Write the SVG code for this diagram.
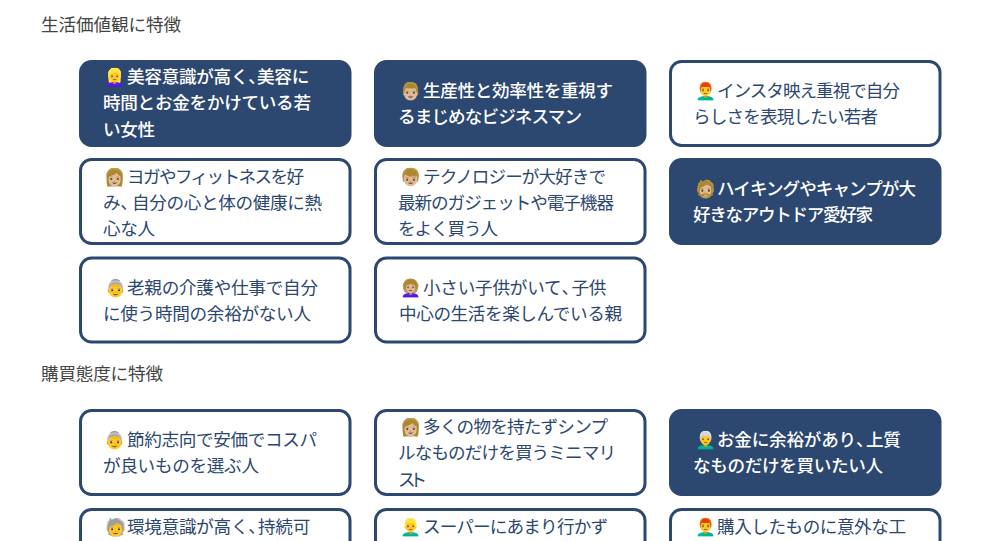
<svg xmlns="http://www.w3.org/2000/svg" width="1000" height="541" viewBox="0 0 1000 541">
<style>
text{font-family:"Noto Sans CJK JP","Noto Sans",sans-serif;font-size:17.6px}
.h{fill:#444}
.card{stroke:#2c4770;stroke-width:3;fill:#fff}
.on .card{fill:#2c4770}
.t{fill:#2c4770}
.on .t{fill:#fff;font-weight:500}
.e{font-size:17px;font-family:"Noto Color Emoji",sans-serif}
</style>
<rect width="1000" height="541" fill="#fff"/>
<text class="h" x="41" y="31" textLength="140">生活価値観に特徴</text>
<text class="h" x="41" y="380" textLength="122">購買態度に特徴</text>
<g id="n1" class="on"><rect class="card" x="80.500" y="61.500" width="269.500" height="84" rx="11"/><text class="t"><tspan class="e" x="104" y="83">👱‍♀️</tspan><tspan x="127" y="83" letter-spacing="-0.27">美容意識が高く<tspan letter-spacing="-8.9">、</tspan>美容に</tspan><tspan x="103" y="109.400" textLength="208">時間とお金をかけている若</tspan><tspan x="103" y="135.800" textLength="52">い女性</tspan></text></g>
<g id="n2" class="on"><rect class="card" x="375.500" y="61.500" width="269.500" height="84" rx="11"/><text class="t"><tspan class="e" x="400" y="97">👨🏼</tspan><tspan x="423" y="97" textLength="190">生産性と効率性を重視す</tspan><tspan x="398" y="123.400" textLength="184">るまじめなビジネスマン</tspan></text></g>
<g id="n3"><rect class="card" x="670.500" y="61.500" width="269.500" height="84" rx="11"/><text class="t"><tspan class="e" x="695" y="97">👨‍🦰</tspan><tspan x="717" y="97" textLength="183">インスタ映え重視で自分</tspan><tspan x="693" y="123.400" textLength="185">らしさを表現したい若者</tspan></text></g>
<g id="n4"><rect class="card" x="80.500" y="159.500" width="269.500" height="84" rx="11"/><text class="t"><tspan class="e" x="104" y="182.500">👩🏼</tspan><tspan x="127" y="182.500" textLength="177">ヨガやフィットネスを好</tspan><tspan x="103" y="208.900" letter-spacing="-0.33">み<tspan letter-spacing="-5.9">、</tspan>自分の心と体の健康に熱</tspan><tspan x="103" y="235.300" textLength="52">心な人</tspan></text></g>
<g id="n5"><rect class="card" x="375.500" y="159.500" width="269.500" height="84" rx="11"/><text class="t"><tspan class="e" x="400" y="182.500">👦🏼</tspan><tspan x="423" y="182.500" textLength="183">テクノロジーが大好きで</tspan><tspan x="398" y="208.900" textLength="216">最新のガジェットや電子機器</tspan><tspan x="398" y="235.300" textLength="100">をよく買う人</tspan></text></g>
<g id="n6" class="on"><rect class="card" x="670.500" y="159.500" width="269.500" height="84" rx="11"/><text class="t"><tspan class="e" x="695" y="195">🧔🏼</tspan><tspan x="717" y="195" textLength="199">ハイキングやキャンプが大</tspan><tspan x="693" y="221.400" textLength="180">好きなアウトドア愛好家</tspan></text></g>
<g id="n7"><rect class="card" x="80.500" y="258" width="269.500" height="84" rx="11"/><text class="t"><tspan class="e" x="105" y="294">👵</tspan><tspan x="127" y="294" textLength="191">老親の介護や仕事で自分</tspan><tspan x="103" y="320.400" textLength="208">に使う時間の余裕がない人</tspan></text></g>
<g id="n8"><rect class="card" x="375.500" y="258" width="269.500" height="84" rx="11"/><text class="t"><tspan class="e" x="400" y="294">👩🏼‍🦱</tspan><tspan x="423" y="294" letter-spacing="-0.22">小さい子供がいて<tspan letter-spacing="-7.6">、</tspan>子供</tspan><tspan x="399" y="320.400" textLength="223">中心の生活を楽しんでいる親</tspan></text></g>
<g id="n9"><rect class="card" x="80.500" y="410.500" width="269.500" height="84" rx="11"/><text class="t"><tspan class="e" x="104" y="446">👵</tspan><tspan x="127" y="446" textLength="190">節約志向で安価でコスパ</tspan><tspan x="103" y="472.400" textLength="156">が良いものを選ぶ人</tspan></text></g>
<g id="n10"><rect class="card" x="375.500" y="410.500" width="269.500" height="84" rx="11"/><text class="t"><tspan class="e" x="400" y="433">👩🏼</tspan><tspan x="423" y="433" textLength="185">多くの物を持たずシンプ</tspan><tspan x="398" y="459.400" textLength="218">ルなものだけを買うミニマリ</tspan><tspan x="398" y="485.800" textLength="29">スト</tspan></text></g>
<g id="n11" class="on"><rect class="card" x="670.500" y="410.500" width="269.500" height="84" rx="11"/><text class="t"><tspan class="e" x="695" y="446">👨‍🦳</tspan><tspan x="717" y="446" letter-spacing="-0.22">お金に余裕があり<tspan letter-spacing="-7.6">、</tspan>上質</tspan><tspan x="693" y="472.400" textLength="190">なものだけを買いたい人</tspan></text></g>
<g id="n12"><rect class="card" x="80.500" y="509.500" width="269.500" height="84" rx="11"/><text class="t"><tspan class="e" x="105" y="533">🧓</tspan><tspan x="127" y="533" letter-spacing="-0.27">環境意識が高く<tspan letter-spacing="-7.9">、</tspan>持続可</tspan></text></g>
<g id="n13"><rect class="card" x="375.500" y="509.500" width="269.500" height="84" rx="11"/><text class="t"><tspan class="e" x="400" y="533">👱‍♂️</tspan><tspan x="423" y="533" textLength="185">スーパーにあまり行かず</tspan></text></g>
<g id="n14"><rect class="card" x="670.500" y="509.500" width="269.500" height="84" rx="11"/><text class="t"><tspan class="e" x="695" y="533">👨‍🦰</tspan><tspan x="717" y="533" textLength="189">購入したものに意外な工</tspan></text></g>
</svg>
